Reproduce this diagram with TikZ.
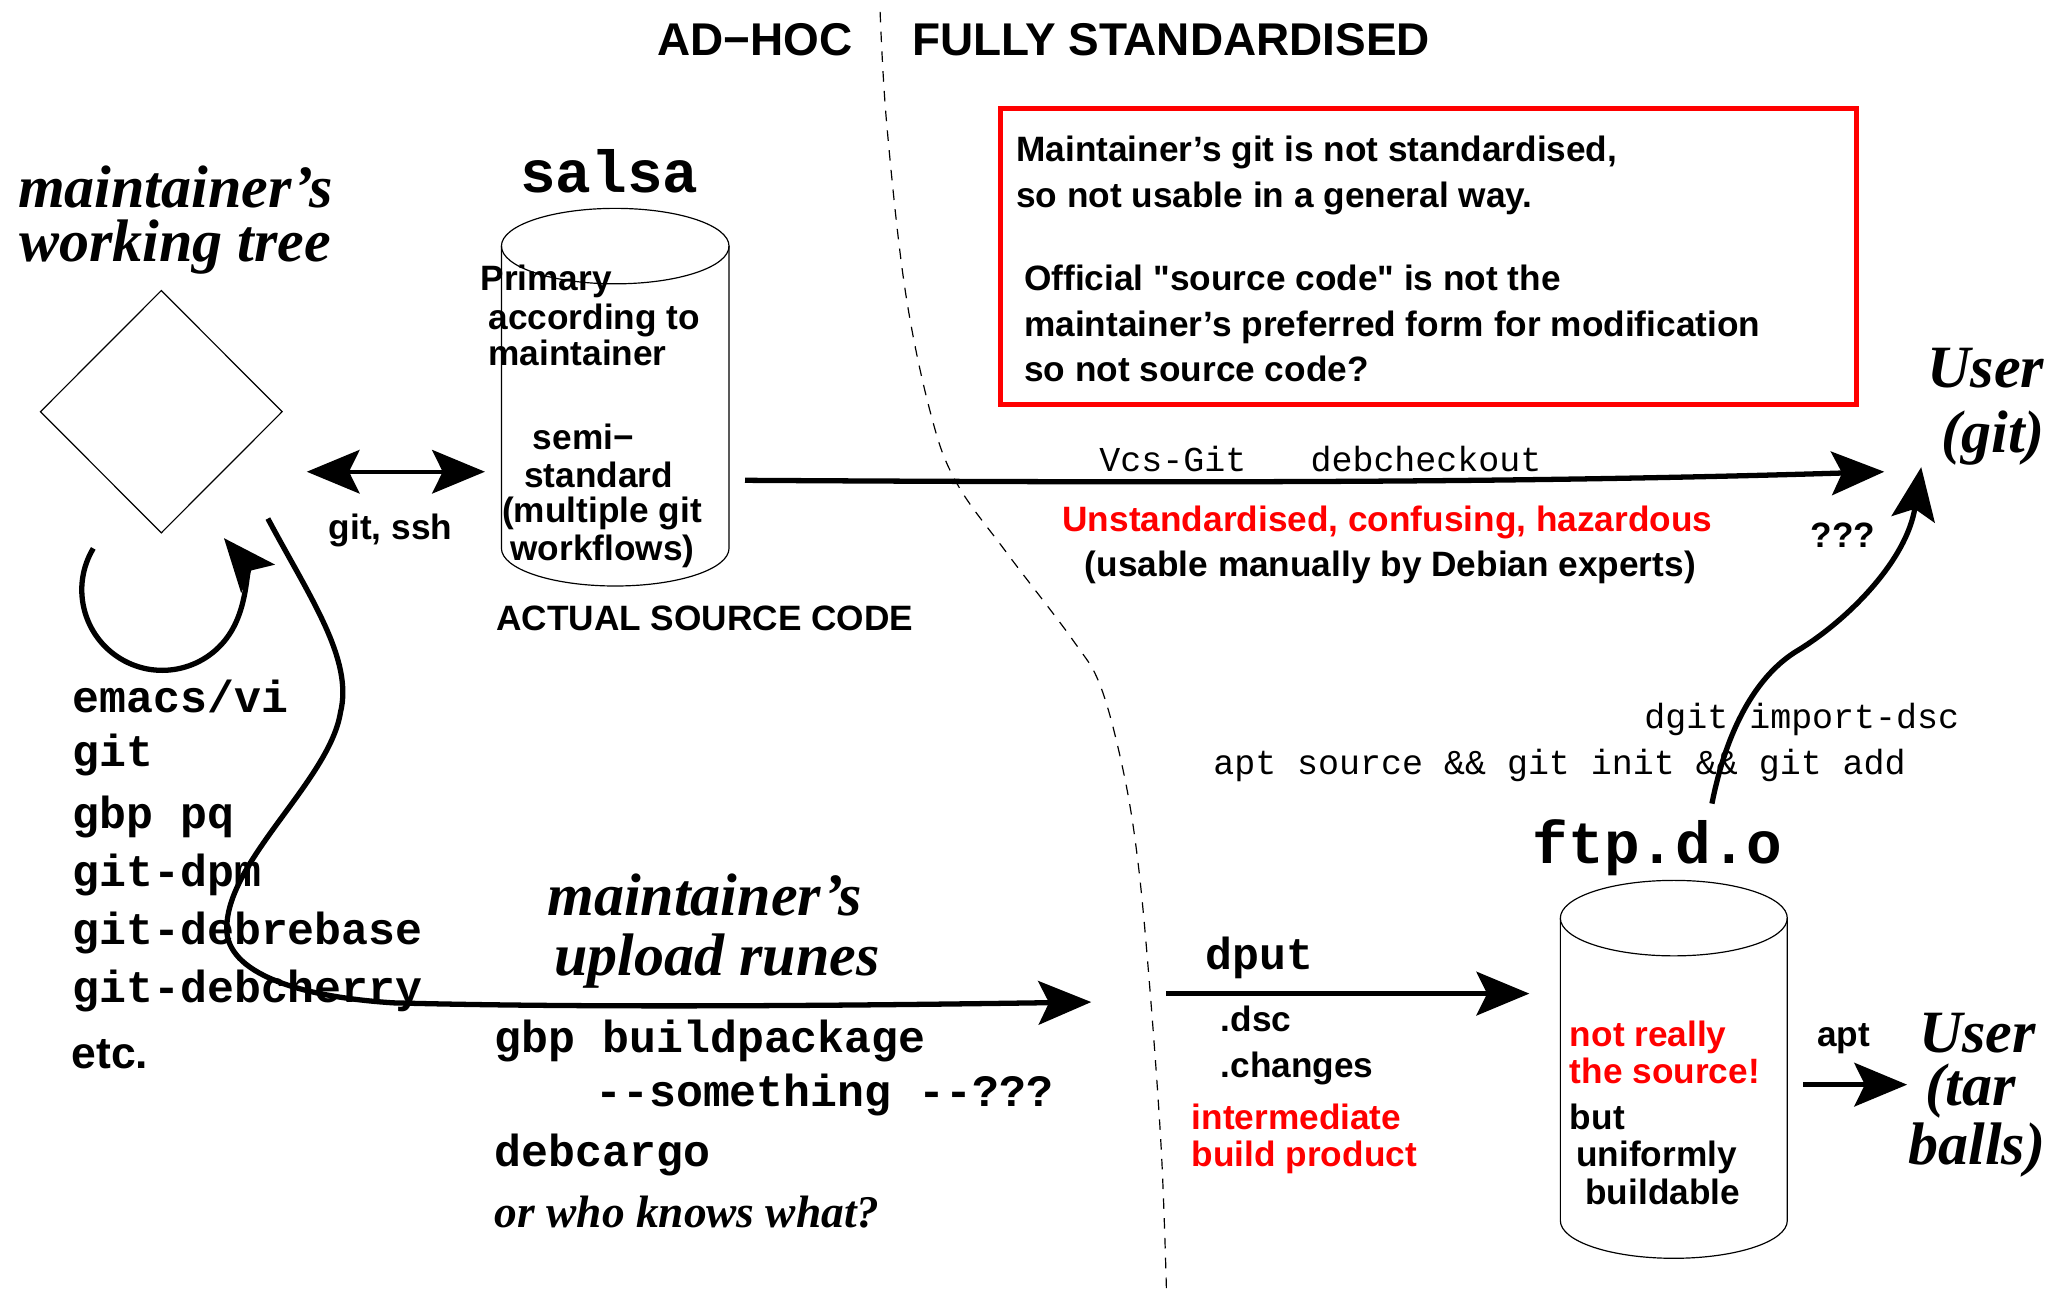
\documentclass[tikz,border=0pt]{standalone}
\usepackage{fontspec}
\setmainfont{Liberation Serif}
\setsansfont{Liberation Sans}[Ligatures=TeXOff]
\setmonofont{Liberation Mono}
\usepackage{xcolor}
\usetikzlibrary{arrows.meta, shapes.geometric}
\definecolor{figred}{RGB}{255,0,0}
\tikzset{
    x=1pt, y=-1pt,                                  % sketch units, y runs downwards
    txt/.style={inner sep=0pt, anchor=base west},   % every label sits on its baseline
    lbl/.style={txt, font=\sffamily\bfseries\fontsize{26.7}{28}\selectfont},
    title/.style={txt, font=\sffamily\bfseries\fontsize{34.8}{36}\selectfont},
    ital/.style={txt, font=\bfseries\itshape\fontsize{45.5}{50}\selectfont},
    ttbold/.style={txt, font=\ttfamily\bfseries\fontsize{34}{36}\selectfont},
    ttbig/.style={txt, font=\ttfamily\bfseries\fontsize{45}{48}\selectfont},
    ttcmd/.style={txt, font=\ttfamily\fontsize{26.5}{28}\selectfont},
    fine/.style={line width=0.9pt},
    tip/.tip={Stealth[length=40pt, width=33pt, inset=8pt]},
    flow/.style={line width=4pt, -tip},             % the thick arrows
}
% a storage drum: left x, right x, top y, bottom y
\newcommand{\drum}[4]{%
  \pgfmathsetmacro\drumrx{(#2-#1)/2}
  \draw[fine] ({(#1+#2)/2},#3) ellipse[x radius=\drumrx, y radius=28.6];
  \draw[fine] (#1,#3) -- (#1,#4) arc[start angle=180, end angle=0, x radius=\drumrx, y radius=28.6] -- (#2,#3);
}

\begin{document}
\begin{tikzpicture}

\path[use as bounding box, fill=white] (0,0) rectangle (1568,986);

% ad-hoc / standardised border
\draw[fine, dash pattern=on 8pt off 7pt] plot[smooth, tension=0.6] coordinates {(667,9) (672,94) (686,220) (705.6,314.5) (725,366) (763,419) (813,485) (834,520) (851,583) (862,650) (871,744) (880,870) (884,978)};
\node[title] (adhoc) at (498,42.4) {AD−HOC};
\node[title] (fully) at (691,42.4) {FULLY STANDARDISED};

% working tree
\node[ital] (wt1) at (13.5,157) {maintainer’s};
\node[ital] (wt2) at (14.5,198) {working tree};
\node[draw, fine, diamond, minimum width=183.5pt, minimum height=184pt, inner sep=0pt] (tree) at (122.25,312) {};

\node[ttbold] (ed1) at (54.8,539.8) {emacs/vi};
\node[ttbold] (ed2) at (54.8,580.7) {git};
\node[ttbold] (ed3) at (54.8,628) {gbp pq};
\node[ttbold] (ed4) at (54.8,672) {git-dpm};
\node[ttbold] (ed5) at (54.8,716) {git-debrebase};
\node[ttbold] (ed6) at (54.8,760) {git-debcherry};
\node[txt, font=\sffamily\bfseries\fontsize{33.7}{36}\selectfont] (ed7) at (54,810) {etc.};

% salsa
\node[ttbig] (salsa) at (394,146) {salsa};
\drum{380}{552.5}{186.5}{415.5}
\node[lbl] (s1) at (364,220) {Primary};
\node[lbl] (s2) at (370,250) {according to};
\node[lbl] (s3) at (370,277) {maintainer};
\node[lbl] (s4) at (403.6,341) {semi−};
\node[lbl] (s5) at (397,369.5) {standard};
\node[lbl] (s6) at (380.4,396) {(multiple git};
\node[lbl] (s7) at (386.7,424.5) {workflows)};
\node[lbl] (actual) at (376,478) {ACTUAL SOURCE CODE};
\node[lbl] (ssh) at (249,409) {git, ssh};

% the complaint
\draw[figred, line width=3.5pt] (758,82.4) rectangle (1407,306.6);
\node[lbl] (n1) at (770,122.6) {Maintainer’s git is not standardised,};
\node[lbl] (n2) at (770,157.5) {so not usable in a general way.};
\node[lbl] (n3) at (776,220) {Official "source code" is not the};
\node[lbl] (n4) at (776,255) {maintainer’s preferred form for modification};
\node[lbl] (n5) at (776,289) {so not source code?};

% vcs-git route
\node[ttcmd] (vcs) at (833,357.5) {Vcs-Git};
\node[ttcmd] (dco) at (993,357.5) {debcheckout};
\node[lbl, text=figred] (haz) at (805,403) {Unstandardised, confusing, hazardous};
\node[lbl] (exp) at (822,437) {(usable manually by Debian experts)};
\node[lbl] (qqq) at (1372,415) {???};
\node[ital] (ug1) at (1460.5,294) {User};
\node[ital] (ug2) at (1471,342.7) {(git)};

% upload
\node[ital] (up1) at (414.7,694) {maintainer’s};
\node[ital] (up2) at (420,739.6) {upload runes};
\node[ttbold] (gbp1) at (374.8,797.8) {gbp buildpackage};
\node[ttbold] (gbp2) at (451,838.7) {--something --???};
\node[ttbold] (cargo) at (374.8,884.3) {debcargo};
\node[txt, font=\bfseries\itshape\fontsize{34.4}{36}\selectfont] (who) at (374.8,930) {or who knows what?};

% ftp.d.o
\node[ttbig] (ftp) at (1161.5,654.6) {ftp.d.o};
\drum{1182.5}{1354.5}{695.8}{925}
\node[lbl, text=figred] (f1) at (1189.6,793) {not really};
\node[lbl, text=figred] (f2) at (1189.6,821.4) {the source!};
\node[lbl] (f3) at (1189.6,856) {but};
\node[lbl] (f4) at (1194.4,884) {uniformly};
\node[lbl] (f5) at (1201.3,912.5) {buildable};
\node[ttcmd] (dgit) at (1246,552.4) {dgit import-dsc};
\node[ttcmd] (aptsrc) at (919.3,587) {apt source \&\& git init \&\& git add};
\node[ttbold] (dput) at (913.3,734.8) {dput};
\node[lbl] (dsc) at (925,781.5) {.dsc};
\node[lbl] (chg) at (925,816.7) {.changes};
\node[lbl, text=figred] (im1) at (903,856) {intermediate};
\node[lbl, text=figred] (im2) at (903,884) {build product};
\node[lbl] (apt) at (1377,793) {apt};
\node[ital] (ut1) at (1454.3,797.8) {User};
\node[ital] (ut2) at (1459,838) {(tar};
\node[ital] (ut3) at (1446,882.7) {balls)};

% arrow ends
\coordinate (sshL) at (232.5,357.5);
\coordinate (sshR) at (367.5,357.5);
\coordinate (vcsS) at (564.6,364);
\coordinate (vcsE) at (1428,357.5);
\coordinate (dgS) at (1297.4,609);
\coordinate (dgM) at (1363,492.6);
\coordinate (dgE) at (1456,354);
\coordinate (loopS) at (70.7,415.6);
\coordinate (upS) at (203,393);
\coordinate (upE) at (827,759.4);
\coordinate (dputS) at (884,753);
\coordinate (dputE) at (1159,753);
\coordinate (aptS) at (1366.5,822);
\coordinate (aptE) at (1445.3,822);

\draw[line width=3pt, tip-tip] (sshL) -- (sshR);
\draw[flow] (vcsS) .. controls (900,366) and (1150,366) .. (vcsE);
\draw[flow] (dgS) .. controls (1308,555) and (1330,512) .. (dgM)
    .. controls (1400,470) and (1445,425) .. (dgE);
\draw[flow] (loopS) arc[start angle=211, end angle=-40, radius=61];
\draw[flow] (upS) .. controls (235,453) and (268,500) .. (258,540)
    .. controls (250,590) and (175,650) .. (172,700)
    .. controls (168,735) and (220,755) .. (298,760)
    .. controls (450,764) and (650,762) .. (upE);
\draw[flow] (dputS) -- (dputE);
\draw[flow] (aptS) -- (aptE);

\end{tikzpicture}
\end{document}
